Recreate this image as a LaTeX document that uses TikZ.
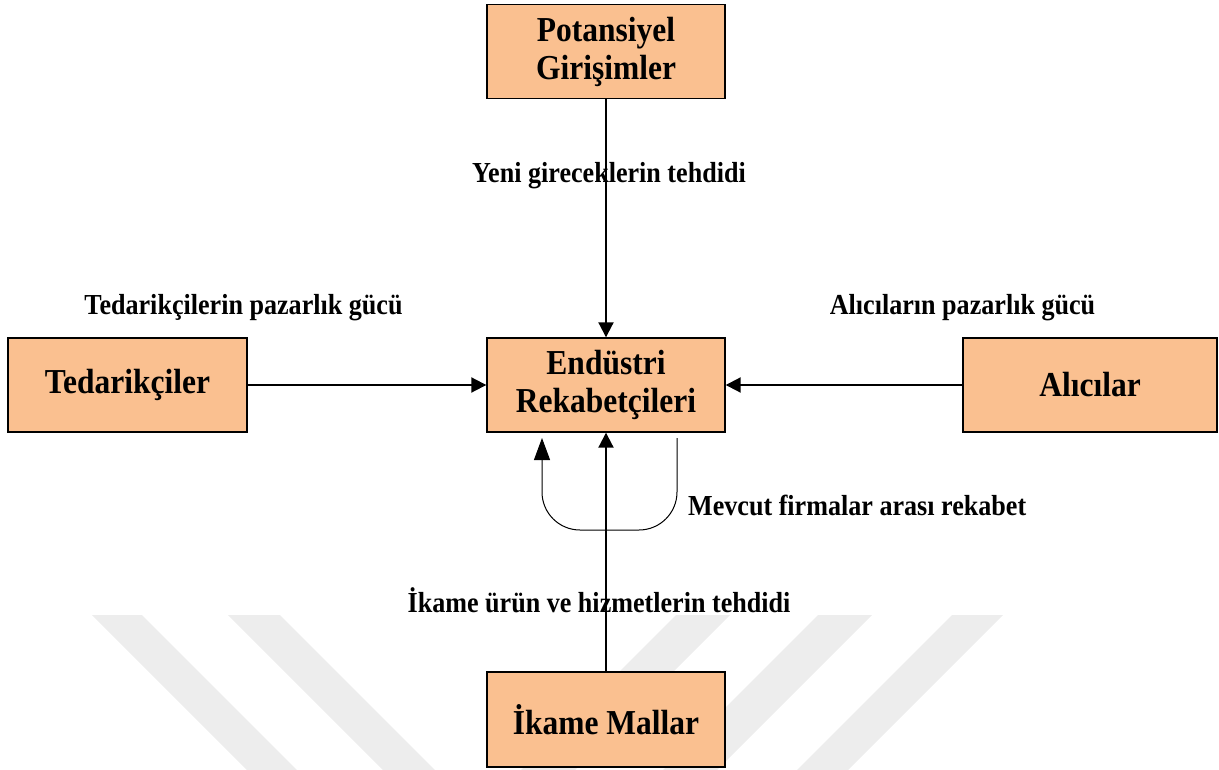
\documentclass[tikz,border=0pt]{standalone}
\usepackage{fontspec}
\setmainfont[FakeStretch=0.9]{Liberation Serif}
\usetikzlibrary{arrows.meta,calc}
\definecolor{boxfill}{HTML}{FAC090}
\definecolor{wmark}{HTML}{EDEDED}
\begin{document}
\begin{tikzpicture}[x=1pt,y=-1pt,
  force/.style={draw=black,line width=1.4pt,fill=boxfill,minimum width=238pt,minimum height=94pt,
    align=center,font=\fontsize{35}{38}\selectfont\bfseries,inner sep=0pt},
  flow/.style={line width=2pt,-{Triangle[length=15pt,width=15pt]}},
  loopline/.style={line width=1pt,-{Triangle[length=22pt,width=16pt]},rounded corners=38pt},
  lbl/.style={font=\fontsize{29}{32}\selectfont\bfseries,anchor=base,inner sep=0pt},
  band/.style={fill=wmark,draw=none}]
\useasboundingbox (0,0) rectangle (1219,770);
% faint chevron bands in the lower part of the page
\begin{scope}
\clip (0,0) rectangle (1219,770);
\fill[band] (92,615) -- (142,615) -- (297,770) -- (247,770) -- cycle;
\fill[band] (228,615) -- (280,615) -- (435,770) -- (383,770) -- cycle;
\fill[band] (676,615) -- (730,615) -- (575,770) -- (521,770) -- cycle;
\fill[band] (818,615) -- (872,615) -- (717,770) -- (663,770) -- cycle;
\fill[band] (952,615) -- (1003,615) -- (848,770) -- (797,770) -- cycle;
\end{scope}
% the five forces
\node[force] (pot) at (606,51.5) {Potansiyel\\Girişimler};
\node[force] (end) at (606,385) {Endüstri\\Rekabetçileri};
\node[force,minimum width=239pt] (ted) at (127.5,385) {Tedarikçiler};
\node[force,minimum width=254pt] (alc) at (1090,385) {Alıcılar};
\node[force,minimum height=95pt] (ika) at (606,719.5) {İkame Mallar};
% pressures on the industry
\draw[flow] (pot.south) -- (end.north);
\draw[flow] (ted.east) -- (end.west);
\draw[flow] (alc.west) -- (end.east);
\draw[flow] (ika.north) -- (end.south);
% rivalry loop
\coordinate (loopstart) at (677,438);
\coordinate (loopend) at (542,438);
\draw[loopline] (loopstart) -- (677,530) -- (542,530) -- (loopend);
% labels
\node[lbl] (lnew) at (609,183) {Yeni gireceklerin tehdidi};
\node[lbl] (lsup) at (243.5,315) {Tedarikçilerin pazarlık gücü};
\node[lbl] (lbuy) at (962.5,315) {Alıcıların pazarlık gücü};
\node[lbl,anchor=base west] (lriv) at (688,515) {Mevcut firmalar arası rekabet};
\node[lbl] (lsub) at (599,612) {İkame ürün ve hizmetlerin tehdidi};
\end{tikzpicture}
\end{document}
